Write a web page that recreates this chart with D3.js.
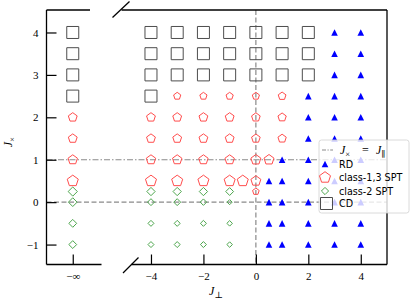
<!DOCTYPE html>
<html>
<head>
<meta charset="utf-8">
<script src="https://cdnjs.cloudflare.com/ajax/libs/d3/7.8.5/d3.min.js"></script>
<style>
body{margin:0;background:#fff;}
svg text{font-family:"Liberation Serif","DejaVu Serif",serif;}
</style>
</head>
<body>
<div id="chart"></div>
<script>
// phase diagram data, x = -Infinity is the left (broken) panel
var NINF = -Infinity;

var cdPts = [
	[NINF,4],[NINF,3.5],[NINF,3],[NINF,2.5],
	[-4,4],[-4,3.5],[-4,3],[-4,2.5],
	[-3,4],[-3,3.5],[-3,3],
	[-2,4],[-2,3.5],[-2,3],
	[-1,4],[-1,3.5],[-1,3],
	[0,4],[0,3.5],[0,3],
	[1,4],[1,3.5],[1,3],
	[2,4],[2,3.5],[2,3]
];

// [x, y, relative gap]
var spt13Pts = [
	[NINF,2,0.8],[NINF,1.5,0.8],[NINF,1,0.85],[NINF,0.5,1.0],
	[-3,2.5,0.65],[-2,2.5,0.65],[-1,2.5,0.65],[0,2.5,0.65],[1,2.5,0.7],
	[-4,2,0.8],[-3,2,0.8],[-2,2,0.8],[-1,2,0.8],[0,2,0.78],[1,2,0.75],
	[-4,1.5,0.8],[-3,1.5,0.8],[-2,1.5,0.8],[-1,1.5,0.8],[0,1.5,0.78],[1,1.5,0.75],
	[-4,1,0.85],[-3,1,0.85],[-2,1,0.85],[-1,1,0.85],[0,1,0.9],[0.5,1,0.9],
	[-4,0.5,1.0],[-3,0.5,1.0],[-2,0.5,1.0],[-1,0.5,1.0],[-0.5,0.5,1.0],[0,0.5,0.9],
	[0,0.25,0.6]
];

var spt2Pts = [
	[NINF,0.25,1.0],[NINF,0,0.95],[NINF,-0.5,0.85],[NINF,-1,0.85],
	[-4,0.25,0.9],[-3,0.25,0.9],[-2,0.25,0.9],[-1,0.25,0.85],
	[-4,0,0.75],[-3,0,0.75],[-2,0,0.7],[-1,0,0.55],
	[-4,-0.5,0.65],[-3,-0.5,0.65],[-2,-0.5,0.65],[-1,-0.5,0.6],
	[-4,-1,0.65],[-3,-1,0.65],[-2,-1,0.65],[-1,-1,0.6]
];

var rdPts = [
	[0.5,0.5],[0.5,0],[0.5,-0.5],[0.5,-1],
	[1,1],[1,0.5],[1,0],[1,-0.5],[1,-1],
	[2,2.5],[2,2],[2,1.5],[2,1],[2,0.5],[2,0],[2,-0.5],[2,-1],
	[3,4],[3,3.5],[3,3],[3,2.5],[3,2],[3,1.5],[3,1],[3,0.5],[3,0],[3,-0.5],[3,-1],
	[4,4],[4,3.5],[4,3],[4,2.5],[4,2],[4,1.5],[4,1],[4,0.5],[4,0],[4,-0.5],[4,-1]
];

var yTicks = [-1,0,1,2,3,4];
var xTicks = [-4,-2,0,2,4];
var legendLabels = ["RD","class-1,3 SPT","class-2 SPT","CD"];

var W = 415, H = 305;
var topY = 10, botY = 264.5;
var leftL = 46.5, rightL = 99;
var leftR = 124.75, rightR = 387;
var serif = "'Liberation Serif', 'DejaVu Serif', serif";

var svg = d3.select("#chart").append("svg")
	.attr("width", W)
	.attr("height", H);

var y = d3.scaleLinear().domain([-1.47, 4.53]).range([botY, topY]);
var xR = d3.scaleLinear().domain([-5, 5]).range([leftR, rightR]);
var xL = d3.scalePoint().domain(["-inf"]).range([leftL, rightL]).padding(0.5);
var gapR = d3.scaleLinear().domain([0, 1]).range([0, 5.8]);
var gapD = d3.scaleLinear().domain([0, 1]).range([0, 4.6]);

function xPos(v){
	if(!isFinite(v)) return xL("-inf");
	return xR(v);
}

function pentagon(r){
	var pts = [];
	for(var k = 0; k < 5; k++){
		var a = -Math.PI/2 + k*2*Math.PI/5;
		pts.push([r*Math.cos(a), r*Math.sin(a)]);
	}
	return "M" + pts.join("L") + "Z";
}
function diamond(r){
	return "M0," + (-r) + "L" + r + ",0L0," + r + "L" + (-r) + ",0Z";
}
function triangle(r){
	return "M0," + (-r) + "L" + r + "," + r + "L" + (-r) + "," + r + "Z";
}
function square(r){
	return "M" + (-r) + "," + (-r) + "H" + r + "V" + r + "H" + (-r) + "Z";
}

var gray = "#8a8a8a";
var redC = "#ff4d4d", greenC = "#4da64d", sqC = "#4d4d4d", blueC = "#0000ff";

// reference lines
var lines = svg.append("g").attr("class", "reflines");
lines.append("line")
	.attr("x1", leftL).attr("x2", rightR)
	.attr("y1", y(1)).attr("y2", y(1))
	.style("stroke", gray).style("stroke-width", 1.2)
	.style("stroke-dasharray", "6,2,1.5,2");
lines.append("line")
	.attr("x1", leftL).attr("x2", rightR)
	.attr("y1", y(0)).attr("y2", y(0))
	.style("stroke", gray).style("stroke-width", 1.2)
	.style("stroke-dasharray", "5,2.5");
lines.append("line")
	.attr("x1", xR(0)).attr("x2", xR(0))
	.attr("y1", topY).attr("y2", botY)
	.style("stroke", gray).style("stroke-width", 1.2)
	.style("stroke-dasharray", "5,2.5");

// markers
var marks = svg.append("g").attr("class", "marks");

marks.selectAll("path.cd").data(cdPts).enter().append("path")
	.attr("class", "cd")
	.attr("d", square(6))
	.attr("transform", function(d){return "translate(" + xPos(d[0]) + "," + y(d[1]) + ")";})
	.style("fill", "none").style("stroke", sqC).style("stroke-width", 1);

marks.selectAll("path.spt13").data(spt13Pts).enter().append("path")
	.attr("class", "spt13")
	.attr("d", function(d){return pentagon(gapR(d[2]));})
	.attr("transform", function(d){return "translate(" + xPos(d[0]) + "," + y(d[1]) + ")";})
	.style("fill", "none").style("stroke", redC).style("stroke-width", 1);

marks.selectAll("path.spt2").data(spt2Pts).enter().append("path")
	.attr("class", "spt2")
	.attr("d", function(d){return diamond(gapD(d[2]));})
	.attr("transform", function(d){return "translate(" + xPos(d[0]) + "," + y(d[1]) + ")";})
	.style("fill", "none").style("stroke", greenC).style("stroke-width", 1);

marks.selectAll("path.rd").data(rdPts).enter().append("path")
	.attr("class", "rd")
	.attr("d", triangle(3.3))
	.attr("transform", function(d){return "translate(" + xPos(d[0]) + "," + y(d[1]) + ")";})
	.style("fill", blueC);

// axes
var yAxis = d3.axisLeft(y).tickValues(yTicks).tickSize(-10).tickPadding(8).tickFormat(d3.format("d"));
var xAxisR = d3.axisBottom(xR).tickValues(xTicks).tickSize(-10).tickPadding(8).tickFormat(d3.format("d"));
var xAxisL = d3.axisBottom(xL).tickSize(-10).tickPadding(8).tickFormat(function(){return "\u2212\u221e";});

var yG = svg.append("g").attr("transform", "translate(" + leftL + ",0)").call(yAxis);
var xGR = svg.append("g").attr("transform", "translate(0," + botY + ")").call(xAxisR);
var xGL = svg.append("g").attr("transform", "translate(0," + botY + ")").call(xAxisL);

[yG, xGR, xGL].forEach(function(g){
	g.attr("font-family", serif).attr("font-size", 11);
	g.select(".domain").remove();
	g.selectAll(".tick line").style("stroke", "#000").style("stroke-width", 1.2);
	g.selectAll(".tick text").style("font-family", serif)
		.style("font-size", "11px").style("fill", "#000");
});

// spines, with the broken axis marks
var spines = svg.append("g").attr("class", "spines")
	.style("stroke", "#000").style("stroke-width", 1.3).style("fill", "none");
spines.append("line").attr("x1", leftL).attr("x2", leftL).attr("y1", topY).attr("y2", botY);
spines.append("line").attr("x1", leftL).attr("x2", 90).attr("y1", topY).attr("y2", topY);
spines.append("line").attr("x1", leftL).attr("x2", 101.5).attr("y1", botY).attr("y2", botY);
spines.append("line").attr("x1", 121.5).attr("x2", rightR).attr("y1", topY).attr("y2", topY);
spines.append("line").attr("x1", 131.5).attr("x2", rightR).attr("y1", botY).attr("y2", botY);
spines.append("line").attr("x1", rightR).attr("x2", rightR).attr("y1", topY).attr("y2", botY);
spines.append("line").attr("x1", 112.5).attr("x2", 129.5).attr("y1", 17.5).attr("y2", 1.5);
spines.append("line").attr("x1", 123).attr("x2", 138.5).attr("y1", 273).attr("y2", 257.5);

// axis labels
var xl = svg.append("text").attr("x", 216).attr("y", 295)
	.attr("text-anchor", "middle").style("font-size", "12px");
xl.append("tspan").style("font-style", "italic").text("J");
xl.append("tspan").attr("dy", 3).style("font-size", "9px").text("\u22a5");

var yl = svg.append("text").attr("transform", "translate(12,142) rotate(-90)")
	.attr("text-anchor", "middle").style("font-size", "12px");
yl.append("tspan").style("font-style", "italic").text("J");
yl.append("tspan").attr("dy", 3).style("font-size", "9px").text("\u00d7");

// legend
var leg = svg.append("g").attr("class", "legend").attr("transform", "translate(319,140)");
leg.append("rect").attr("x", 0).attr("y", 0).attr("width", 90).attr("height", 73)
	.attr("rx", 2.5)
	.style("fill", "#fff").style("fill-opacity", 0.8)
	.style("stroke", "#d0d0d0").style("stroke-width", 0.8);

leg.append("line").attr("x1", 3).attr("x2", 14).attr("y1", 10).attr("y2", 10)
	.style("stroke", gray).style("stroke-width", 1.2).style("stroke-dasharray", "4,1.5,1.2,1.5");
var lt = leg.append("text").attr("y", 14).style("font-size", "12px");
lt.append("tspan").attr("x", 21).style("font-style", "italic").text("J");
lt.append("tspan").attr("dy", 2.5).style("font-size", "8.5px").text("\u00d7");
lt.append("tspan").attr("x", 43).attr("dy", -2.5).text("=");
lt.append("tspan").attr("x", 57).style("font-style", "italic").text("J");
lt.append("tspan").attr("dy", 2.5).style("font-size", "8.5px").text("\u2225");

var legShapes = [
	{d: triangle(3.3), fill: blueC, stroke: "none"},
	{d: pentagon(5.8), fill: "none", stroke: redC},
	{d: diamond(3.6), fill: "none", stroke: greenC},
	{d: square(6), fill: "none", stroke: sqC}
];
var legRows = [24, 37.5, 51, 63.5];

legendLabels.forEach(function(lbl, i){
	leg.append("path").attr("d", legShapes[i].d)
		.attr("transform", "translate(" + (i == 3 ? 7.5 : 6) + "," + legRows[i] + ")")
		.style("fill", legShapes[i].fill).style("stroke", legShapes[i].stroke).style("stroke-width", 1);
	leg.append("text").attr("x", 20).attr("y", legRows[i] + 3.5)
		.style("font-family", "'DejaVu Sans', sans-serif").style("font-size", "9.6px")
		.style("fill", "#000")
		.text(lbl);
});
</script>
</body>
</html>
